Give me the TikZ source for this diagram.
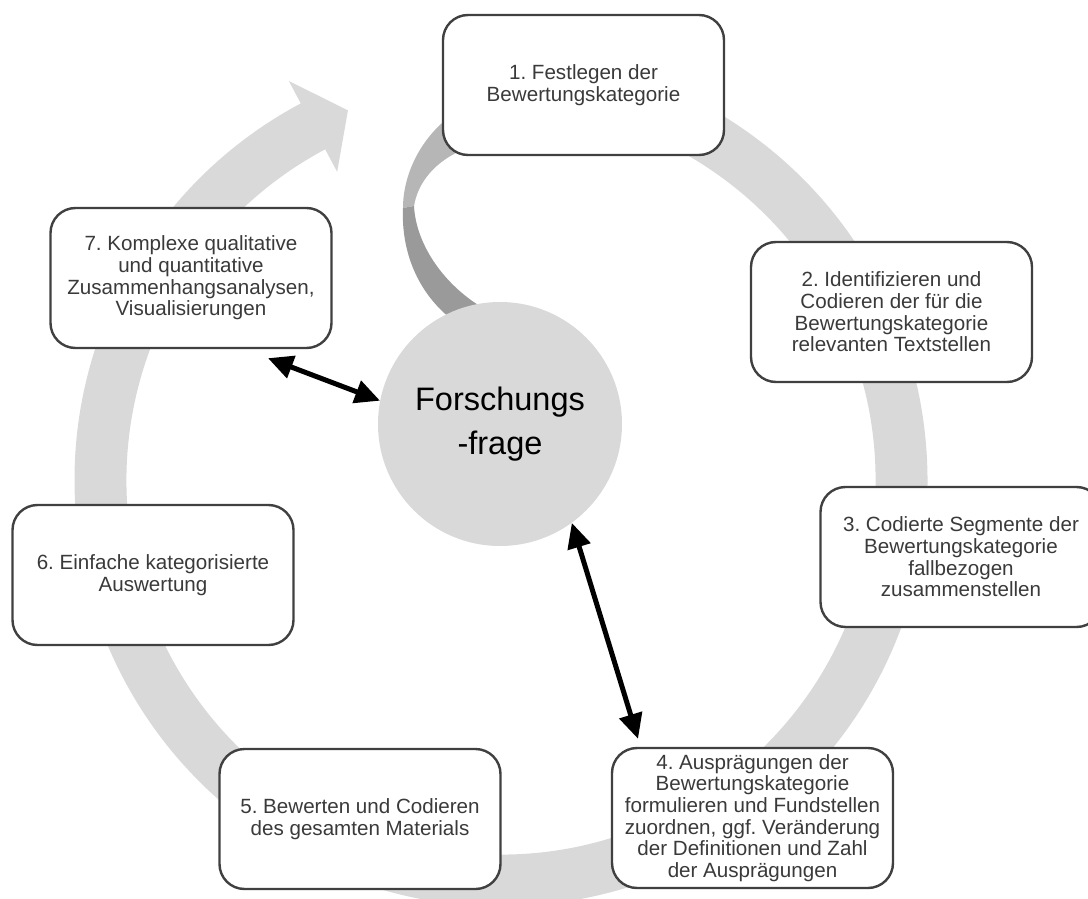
\documentclass[tikz,border=0pt]{standalone}
\usepackage{fontspec}
\setmainfont{Liberation Sans}
\usetikzlibrary{arrows.meta,calc}
\definecolor{ringgray}{HTML}{D9D9D9}
\definecolor{swooshlight}{HTML}{B6B6B6}
\definecolor{swooshdark}{HTML}{9A9A9A}
\definecolor{boxline}{HTML}{404040}
\definecolor{boxtext}{HTML}{3A3A3A}
\frenchspacing
\begin{document}
\begin{tikzpicture}[x=1pt,y=-1pt,
  stepbox/.style={draw=boxline, line width=2.4pt, fill=white, rounded corners=25pt,
    minimum width=281pt, minimum height=140pt, inner sep=0pt, align=center,
    text=boxtext, font=\fontsize{20.6}{21.7}\selectfont},
  core/.style={circle, fill=ringgray, minimum size=244pt, inner sep=0pt, align=center,
    font=\fontsize{32.5}{44}\selectfont},
  link/.style={line width=5pt,
    {Triangle[length=25pt,width=23pt]}-{Triangle[length=25pt,width=23pt]}}
]
\clip (0,0) rectangle (1088,899);

% large circular arrow behind the steps
\begin{scope}[shift={(501,480)}, yscale=-1]
  \fill[ringgray] (95:426.5) arc[start angle=95, end angle=-242, radius=426.5]
    -- (-242:452) -- (112.5:400) -- (-242:349) -- (-242:374.5)
    arc[start angle=-242, end angle=95, radius=374.5] -- cycle;
\end{scope}

% twisted band from step 1 down to the research question
\fill[swooshlight] (448,118) .. controls (420,140) and (403,175) .. (403,208)
  -- (414,206) .. controls (418,182) and (435,162) .. (462,150) -- cycle;
\fill[swooshdark] (403,208) .. controls (401,252) and (418,292) .. (450,318)
  -- (490,312) .. controls (445,288) and (416,245) .. (414,206) -- cycle;

% research question
\node[core] (circ) at (500,424) {Forschungs\\-frage};

% steps
\node[stepbox] (b1) at (583.5,85) {1. Festlegen der\\Bewertungskategorie};
\node[stepbox] (b2) at (891.5,312) {2. Identifizieren und\\Codieren der für die\\Bewertungskategorie\\relevanten Textstellen};
\node[stepbox] (b3) at (961,557) {3. Codierte Segmente der\\Bewertungskategorie\\fallbezogen\\zusammenstellen};
\node[stepbox] (b4) at (752.5,818) {4. Ausprägungen der\\Bewertungskategorie\\formulieren und Fundstellen\\zuordnen, ggf. Veränderung\\der Definitionen und Zahl\\der Ausprägungen};
\node[stepbox] (b5) at (360,819) {5. Bewerten und Codieren\\des gesamten Materials};
\node[stepbox] (b6) at (153,575) {6. Einfache kategorisierte\\Auswertung};
\node[stepbox] (b7) at (191,278) {7. Komplexe qualitative\\und quantitative\\Zusammenhangsanalysen,\\Visualisierungen};

% links to the research question
\draw[link] (circ.169) -- ($(b7.south)+(77,9)$);
\draw[link] ($(b4.north)+(-114.5,-8)$) -- (circ.-54);
\end{tikzpicture}
\end{document}
